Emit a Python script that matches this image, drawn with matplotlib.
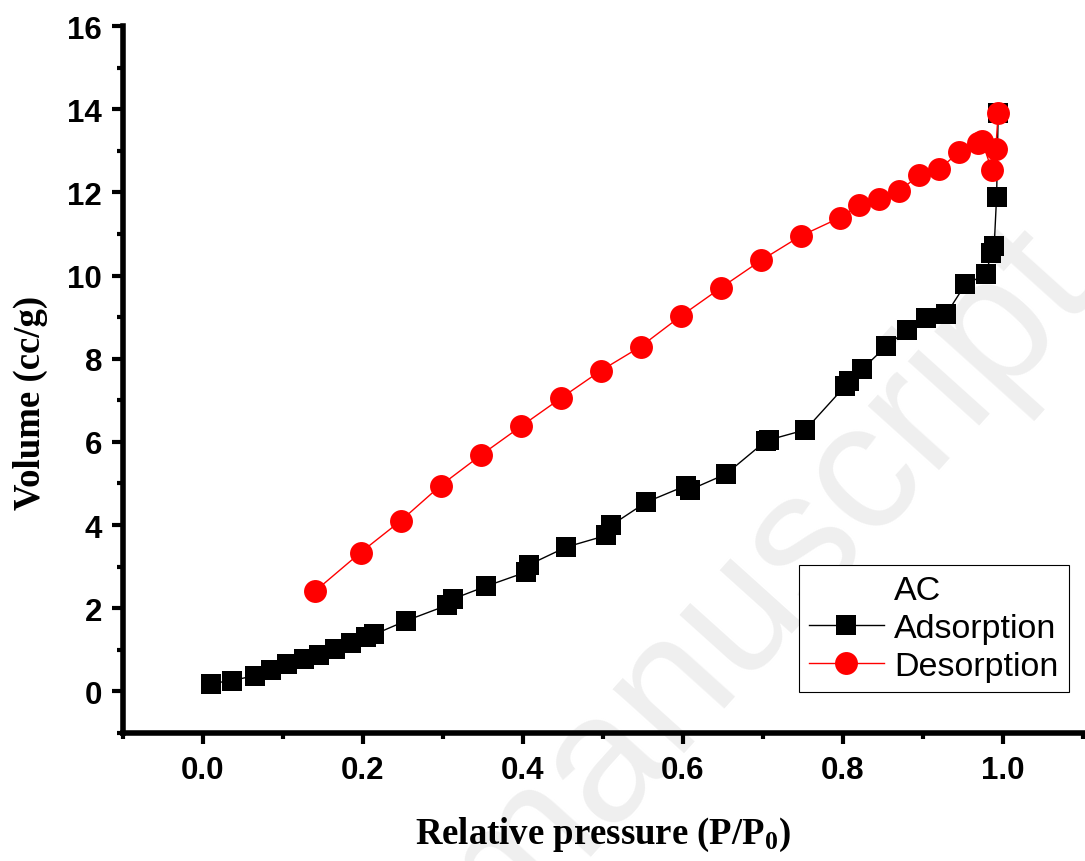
import matplotlib
matplotlib.use("Agg")
import matplotlib.pyplot as plt
from matplotlib.lines import Line2D

# ---- data ----
ads_x = [0.010, 0.036, 0.065, 0.085, 0.105, 0.126, 0.145, 0.165, 0.185, 0.204,
         0.214, 0.254, 0.305, 0.312, 0.354, 0.404, 0.408, 0.454, 0.504, 0.510,
         0.554, 0.604, 0.609, 0.654, 0.704, 0.708, 0.753, 0.803, 0.808, 0.824,
         0.854, 0.880, 0.904, 0.929, 0.953, 0.979, 0.985, 0.989, 0.992, 0.994]
ads_y = [0.19, 0.26, 0.38, 0.51, 0.65, 0.77, 0.87, 1.02, 1.17, 1.31,
         1.37, 1.70, 2.07, 2.22, 2.53, 2.87, 3.05, 3.47, 3.75, 3.99,
         4.55, 4.95, 4.85, 5.23, 6.03, 6.05, 6.29, 7.35, 7.47, 7.75,
         8.30, 8.69, 8.97, 9.07, 9.79, 10.03, 10.54, 10.71, 11.90, 13.91]

des_x = [0.140, 0.197, 0.247, 0.297, 0.348, 0.398, 0.448, 0.497, 0.547, 0.597,
         0.647, 0.698, 0.747, 0.796, 0.820, 0.845, 0.870, 0.895, 0.920, 0.945,
         0.969, 0.974, 0.986, 0.991, 0.994]
des_y = [2.41, 3.34, 4.10, 4.95, 5.69, 6.38, 7.06, 7.71, 8.29, 9.02,
         9.70, 10.37, 10.95, 11.39, 11.69, 11.83, 12.03, 12.41, 12.55, 12.97,
         13.19, 13.23, 12.53, 13.05, 13.91]

xticks = [0.0, 0.2, 0.4, 0.6, 0.8, 1.0]
xtick_labels = ["0.0", "0.2", "0.4", "0.6", "0.8", "1.0"]
xminor = [-0.1, 0.1, 0.3, 0.5, 0.7, 0.9, 1.1]
yticks = [0, 2, 4, 6, 8, 10, 12, 14, 16]
ytick_labels = ["0", "2", "4", "6", "8", "10", "12", "14", "16"]
yminor = [-1, 1, 3, 5, 7, 9, 11, 13, 15]

legend_title = "AC"
series_names = ["Adsorption", "Desorption"]

# ---- style ----
plt.rcParams["mathtext.fontset"] = "custom"
plt.rcParams["mathtext.rm"] = "Liberation Serif:bold"
plt.rcParams["mathtext.it"] = "Liberation Serif:bold"
plt.rcParams["mathtext.bf"] = "Liberation Serif:bold"

W, H = 1085, 862
fig = plt.figure(figsize=(W / 100, H / 100), dpi=100)
ax = fig.add_axes([123 / W, 1 - 734 / H, 960 / W, 707 / H])
ax.set_facecolor("none")

# faint watermark
fig.text(765 / W, 1 - 580 / H, "manuscript", fontsize=130, family="Liberation Sans",
         color="#efefef", rotation=48, ha="center", va="center",
         rotation_mode="anchor", zorder=-1)

h1, = ax.plot(ads_x, ads_y, color="black", lw=1.0, marker="s", ms=15, mew=0,
              zorder=3)
h2, = ax.plot(des_x, des_y, color="#ff0000", lw=1.0, marker="o", ms=16.5, mew=0,
              zorder=4)

ax.set_xlim(-0.1, 1.1)
ax.set_ylim(-1, 16)

for s in ["top", "right"]:
    ax.spines[s].set_visible(False)
for s in ["left", "bottom"]:
    ax.spines[s].set_linewidth(4)

tick_font = dict(family="Liberation Sans", weight="bold", size=22.5)
ax.set_xticks(xticks)
ax.set_xticklabels(xtick_labels, fontdict=tick_font)
ax.set_xticks(xminor, minor=True)
ax.set_yticks(yticks)
ax.set_yticklabels(ytick_labels, fontdict=tick_font)
ax.set_yticks(yminor, minor=True)
ax.tick_params(which="major", direction="out", length=8, width=3)
ax.tick_params(axis="x", which="major", pad=8)
ax.tick_params(axis="y", which="major", pad=7)
ax.tick_params(which="minor", direction="out", length=4.5, width=3)

ax.set_ylabel("Volume (cc/g)", fontsize=26.5, fontweight="bold", family="Liberation Serif")
ax.yaxis.set_label_coords(-0.078, 0.468)
ax.set_xlabel(r"Relative pressure (P/$\mathrm{P_0}$)", fontsize=26.5, fontweight="bold",
              family="Liberation Serif")
ax.xaxis.set_label_coords(0.5, -0.115)

title_handle = Line2D([], [], linestyle="none")
leg = ax.legend([title_handle, h1, h2], [legend_title] + series_names,
                loc="lower right", bbox_to_anchor=(0.985, 0.058),
                prop={"family": "Liberation Sans", "size": 24.5},
                frameon=True, fancybox=False, edgecolor="black", framealpha=1,
                handlelength=2.2, handletextpad=0.3, labelspacing=0.2,
                borderpad=0.3, borderaxespad=0)
leg.get_frame().set_linewidth(0.8)

fig.savefig("out.png", dpi=100)
